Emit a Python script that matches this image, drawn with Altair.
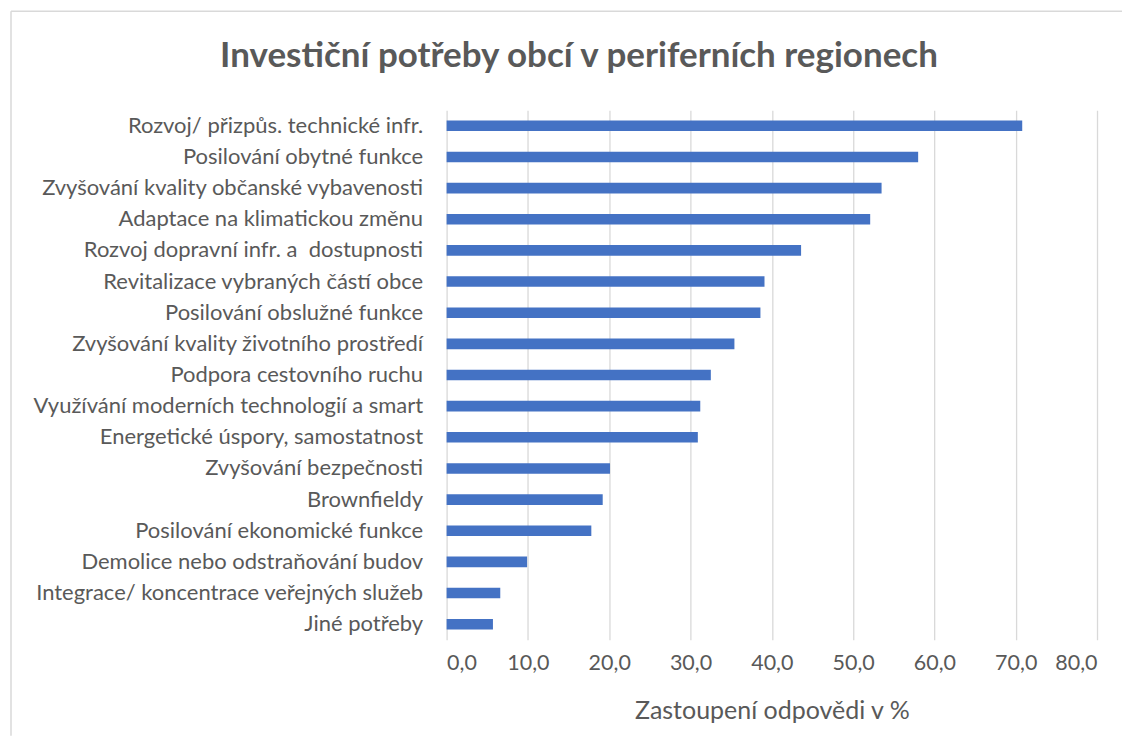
import altair as alt
import pandas as pd

categories = [
    "Rozvoj/ přizpůs. technické infr.\u00a0",
    "Posilování obytné funkce",
    "Zvyšování kvality občanské vybavenosti",
    "Adaptace na klimatickou změnu",
    "Rozvoj dopravní infr. a \u00a0dostupnosti",
    "Revitalizace vybraných částí obce",
    "Posilování obslužné funkce",
    "Zvyšování kvality životního prostředí",
    "Podpora cestovního ruchu",
    "Využívání moderních technologií a smart",
    "Energetické úspory, samostatnost",
    "Zvyšování bezpečnosti",
    "Brownfieldy\u00a0",
    "Posilování ekonomické funkce\u00a0",
    "Demolice nebo odstraňování budov",
    "Integrace/ koncentrace veřejných služeb",
    "Jiné potřeby\u00a0",
]
values = [70.8, 58.0, 53.5, 52.1, 43.6, 39.1, 38.6, 35.4, 32.5, 31.2, 30.9,
          20.1, 19.2, 17.8, 9.9, 6.6, 5.7]
tick_values = [0, 10, 20, 30, 40, 50, 60, 70, 80]

title_text = "Investiční potřeby obcí v periferních regionech"
x_title = "Zastoupení odpovědi v %"

df = pd.DataFrame({"kategorie": categories, "hodnota": values})

FONT = "Lato"
GRAY = "#595959"

bars = alt.Chart(df).mark_bar(color="#4472C4").encode(
    x=alt.X(
        "hodnota:Q",
        scale=alt.Scale(domain=[0, 80], nice=False),
        axis=alt.Axis(
            values=tick_values,
            labelExpr="replace(format(datum.value, '.1f'), '.', ',')",
            title=x_title,
            domain=False,
            ticks=False,
            grid=True,
            gridColor="#d9d9d9",
            gridWidth=1.3,
            labelFont=FONT,
            labelFontSize=21.5,
            labelColor=GRAY,
            labelPadding=13,
            titleFont=FONT,
            titleFontSize=25,
            titleFontWeight="normal",
            titleColor=GRAY,
            titlePadding=24,
        ),
    ),
    y=alt.Y(
        "kategorie:N",
        sort=None,
        scale=alt.Scale(paddingInner=0.66, paddingOuter=0.33),
        axis=alt.Axis(
            title=None,
            domain=False,
            ticks=False,
            labelFont=FONT,
            labelFontSize=22,
            labelColor=GRAY,
            labelPadding=24,
            labelLimit=600,
        ),
    ),
)

frame_df = pd.DataFrame({"a": [0]})
left_line = alt.Chart(frame_df).mark_rule(color="#d9d9d9", strokeWidth=1.5).encode(
    x=alt.value(-436), y=alt.value(-99), y2=alt.value(626)
)
top_line = alt.Chart(frame_df).mark_rule(color="#d9d9d9", strokeWidth=1.5).encode(
    x=alt.value(-436), x2=alt.value(676), y=alt.value(-99)
)

chart = alt.layer(left_line, top_line, bars).properties(
    width=651,
    height=530,
    padding={"left": 2, "top": 2, "right": 0, "bottom": 0},
    title=alt.TitleParams(
        text=title_text,
        font=FONT,
        fontSize=35,
        fontWeight="bold",
        color=GRAY,
        anchor="middle",
        dx=-193,
        offset=-63,
    ),
).configure_view(stroke=None)

chart.save("out.html", embed_options={"renderer": "svg", "actions": False})
